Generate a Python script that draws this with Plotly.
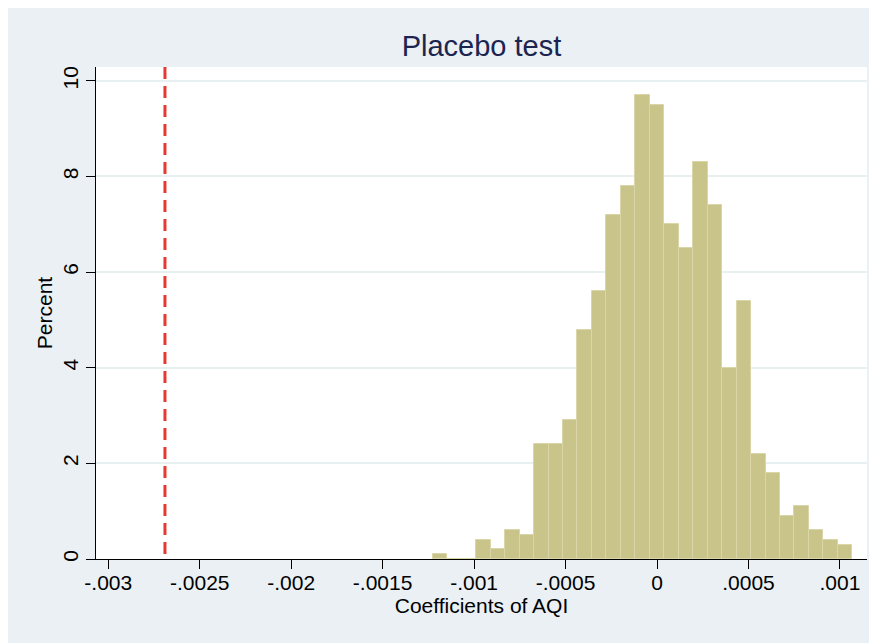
import plotly.graph_objects as go

# ---- data ----
bin_start = -0.001226
bin_width = 0.0000791
percent = [0.1, 0.0, 0.0, 0.4, 0.2, 0.6, 0.5, 2.4, 2.4, 2.9, 4.8, 5.6, 7.2, 7.8,
           9.7, 9.5, 7.0, 6.5, 8.3, 7.4, 4.0, 5.4, 2.2, 1.8, 0.9, 1.1, 0.6, 0.4, 0.3]
true_coef = -0.00269
x_tickvals = [-0.003, -0.0025, -0.002, -0.0015, -0.001, -0.0005, 0, 0.0005, 0.001]
x_ticktext = ["-.003", "-.0025", "-.002", "-.0015", "-.001", "-.0005", "0", ".0005", ".001"]
y_tickvals = [0, 2, 4, 6, 8, 10]
y_ticktext = ["0", "2", "4", "6", "8", "10"]

centers = [bin_start + bin_width * (i + 0.5) for i in range(len(percent))]

# page has an 8px body margin, so the figure starts at (8, 8)
W, H = 869, 635
ML, MR, MT, MB = 88, 10, 59, 84

FONT = "Liberation Sans, Arial, Helvetica, sans-serif"
BG = "#EAF0F3"

fig = go.Figure()
fig.add_trace(go.Bar(
    x=centers, y=percent, width=bin_width,
    marker=dict(color="#C9C48A", line=dict(color="#DAD6AA", width=1)),
    showlegend=False, hoverinfo="x+y",
))

shapes = [
    dict(type="line", xref="x", yref="paper", x0=true_coef, x1=true_coef, y0=1, y1=0,
         line=dict(color="#E8382F", width=3, dash="12px,7px"), layer="above"),
]

fig.update_layout(
    width=W, height=H,
    margin=dict(l=ML, r=MR, t=MT, b=MB, pad=0),
    paper_bgcolor=BG, plot_bgcolor="white",
    font=dict(family=FONT, color="black", size=21),
    title=dict(text="Placebo test", x=(ML + (W - ML - MR) / 2) / W, xanchor="center",
               y=1 - 37.5 / H, yanchor="middle", yref="container",
               font=dict(family=FONT, size=29, color="#1C2550")),
    bargap=0,
    shapes=shapes,
    xaxis=dict(range=[-0.003067, 0.001148], tickvals=x_tickvals, ticktext=x_ticktext,
               showgrid=False, zeroline=False, showline=True, linecolor="black", linewidth=1,
               ticks="outside", ticklen=9, tickcolor="black", tickwidth=1, ticklabelstandoff=-4,
               tickfont=dict(size=21), title=dict(text="Coefficients of AQI", font=dict(size=21), standoff=4)),
    yaxis=dict(range=[0, 10.29], tickvals=y_tickvals, ticktext=y_ticktext, tickangle=-90,
               showgrid=True, gridcolor="#E8F0F2", gridwidth=1.5, zeroline=False,
               showline=True, linecolor="black", linewidth=1,
               ticks="outside", ticklen=9, tickcolor="black", tickwidth=1,
               tickfont=dict(size=21), title=dict(text="Percent", font=dict(size=21), standoff=0)),
)

fig.write_html("out.html")
